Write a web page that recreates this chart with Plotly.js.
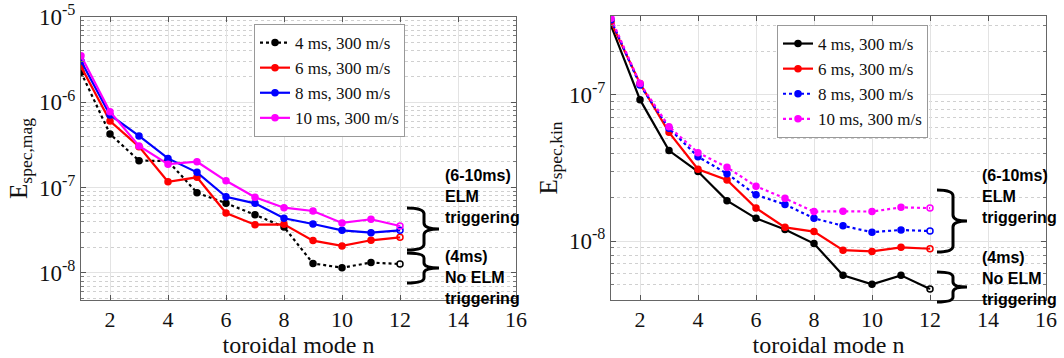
<!DOCTYPE html>
<html><head><meta charset="utf-8">
<script src="https://cdn.plot.ly/plotly-3.0.1.min.js"></script>
<style>html,body{margin:0;padding:0;background:#fff}</style>
</head><body><div id="chart" style="width:1064px;height:358px"></div>
<script>
// ---- data ----
const modeN = [1,2,3,4,5,6,7,8,9,10,11,12];
const seriesNames = ['4 ms, 300 m/s','6 ms, 300 m/s','8 ms, 300 m/s','10 ms, 300 m/s'];
// magnetic spectral energy (left panel)
const mag4ms  = [2.25e-6,4.25e-7,2.07e-7,2.05e-7,8.7e-8,6.55e-8,4.8e-8,3.45e-8,1.29e-8,1.15e-8,1.32e-8,1.27e-8];
const mag6ms  = [2.62e-6,6.04e-7,3.02e-7,1.17e-7,1.32e-7,5.04e-8,3.67e-8,3.71e-8,2.39e-8,2.07e-8,2.41e-8,2.61e-8];
const mag8ms  = [3.05e-6,7.1e-7,4.03e-7,2.2e-7,1.51e-7,7.8e-8,6.54e-8,4.37e-8,3.74e-8,3.15e-8,2.96e-8,3.15e-8];
const mag10ms = [3.52e-6,7.76e-7,3.08e-7,1.88e-7,2.01e-7,1.2e-7,7.69e-8,5.81e-8,5.32e-8,3.85e-8,4.25e-8,3.55e-8];
// kinetic spectral energy (right panel)
const kin4ms  = [2.99e-7,9.29e-8,4.16e-8,2.99e-8,1.89e-8,1.43e-8,1.2e-8,9.6e-9,5.82e-9,5.05e-9,5.82e-9,4.69e-9];
const kin6ms  = [3.15e-7,1.2e-7,5.55e-8,3.1e-8,2.62e-8,1.68e-8,1.24e-8,1.16e-8,8.66e-9,8.49e-9,9.05e-9,8.85e-9];
const kin8ms  = [3.27e-7,1.17e-7,5.91e-8,3.78e-8,2.89e-8,2.07e-8,1.78e-8,1.43e-8,1.27e-8,1.15e-8,1.19e-8,1.17e-8];
const kin10ms = [3.35e-7,1.2e-7,6.07e-8,4.03e-8,3.2e-8,2.37e-8,1.96e-8,1.59e-8,1.6e-8,1.59e-8,1.7e-8,1.68e-8];
const xTicks = [2,4,6,8,10,12,14,16];
const yTicksLeft = [1e-8,1e-7,1e-6,1e-5];
const yTicksRight = [1e-8,1e-7];
const annUpper = '(6-10ms)<br>ELM<br>triggering';
const annLower = '(4ms)<br>No ELM<br>triggering';

// ---- styling ----
const colors = ['#000000','#ff0000','#0000ff','#ff00ff'];
const leftDash = ['dot','solid','solid','solid'];
const rightDash = ['solid','solid','dot','dot'];
const W = 1064, H = 358;
const px = v => v / W, py = v => 1 - v / H;
const serif = 'Liberation Serif';
const sans = 'Liberation Sans';

function syms(n){ return Array.from({length:n},(_,i)=> i===n-1 ? 'circle-open' : 'circle'); }

const traces = [];
[mag4ms,mag6ms,mag8ms,mag10ms].forEach((ys,i)=>{
  traces.push({x:modeN, y:ys, name:seriesNames[i], type:'scatter', mode:'lines+markers',
    line:{color:colors[i], width:2.2, dash:leftDash[i]},
    marker:{color:colors[i], size:6, symbol:syms(ys.length), line:{width:1.5,color:colors[i]}},
    xaxis:'x', yaxis:'y', legend:'legend'});
});
[kin4ms,kin6ms,kin8ms,kin10ms].forEach((ys,i)=>{
  traces.push({x:modeN, y:ys, name:seriesNames[i], type:'scatter', mode:'lines+markers',
    line:{color:colors[i], width:2.2, dash:rightDash[i]},
    marker:{color:colors[i], size:6, symbol:syms(ys.length), line:{width:1.5,color:colors[i]}},
    xaxis:'x2', yaxis:'y2', legend:'legend2'});
});

function minorVals(lo, hi){
  const out=[];
  for(let e=lo;e<hi;e++) for(let m=2;m<=9;m++) out.push(m*Math.pow(10,e));
  return out;
}
const supLabel = v => '10<sup>' + Math.round(Math.log10(v)) + '</sup>';

function xAxis(domain){
  return {domain, range:[1,16], tickvals:xTicks, ticktext:xTicks.map(String),
    ticks:'inside', ticklen:5, tickcolor:'#555', showline:true, linecolor:'#666', linewidth:1, mirror:'ticks',
    showgrid:true, gridcolor:'#e3e3e3', zeroline:false,
    tickfont:{family:serif, size:22, color:'#111'},
    title:{text:'toroidal mode n', font:{family:serif, size:24, color:'#111'}, standoff:0}};
}
function yAxis(domain, range, tv, title, anchor){
  return {domain, type:'log', range, anchor, tickvals:tv, ticktext:tv.map(supLabel),
    ticks:'inside', ticklen:5, tickcolor:'#555', showline:true, linecolor:'#666', linewidth:1, mirror:'ticks',
    showgrid:true, gridcolor:'#e3e3e3', zeroline:false,
    minor:{tickvals:minorVals(-9,-4), showgrid:true, griddash:'dot', gridcolor:'#d0d0d0', ticks:'inside', ticklen:3, tickcolor:'#777'},
    tickfont:{family:serif, size:23, color:'#111'},
    title:{text:title, font:{family:serif, size:25, color:'#111'}, standoff:4}};
}

function brace(x0, xs, xt, y0, y1){
  const m=(y0+y1)/2, r=Math.min(6,(y1-y0)/6);
  const P=(x,y)=> px(x).toFixed(5)+','+py(y).toFixed(5);
  return {type:'path', xref:'paper', yref:'paper', line:{color:'#000', width:3},
    path:'M'+P(x0,y0)+' Q'+P(xs,y0)+' '+P(xs,y0+r)+' L'+P(xs,m-r)+' Q'+P(xs,m)+' '+P(xt,m)+
         ' Q'+P(xs,m)+' '+P(xs,m+r)+' L'+P(xs,y1-r)+' Q'+P(xs,y1)+' '+P(x0,y1)};
}
function label(text, x, y){
  return {text, xref:'paper', yref:'paper', x:px(x), y:py(y), xanchor:'left', yanchor:'middle',
    align:'left', showarrow:false, font:{family:sans, size:16, color:'#000', weight:'bold'}};
}
const legendBase = {xanchor:'left', yanchor:'top', bgcolor:'#fff', bordercolor:'#999', borderwidth:1,
  font:{family:serif, size:17, color:'#111'}, tracegroupgap:0, itemwidth:30};

const layout = {
  width:W, height:H, margin:{l:0,r:0,t:0,b:0}, paper_bgcolor:'#fff', plot_bgcolor:'#fff',
  showlegend:true,
  xaxis:Object.assign(xAxis([px(81),px(516)]), {anchor:'y'}),
  yaxis:yAxis([py(300),py(17)], [-8.318,-5], yTicksLeft, 'E<sub>spec,mag</sub>', 'x'),
  xaxis2:Object.assign(xAxis([px(611),px(1046)]), {anchor:'y2'}),
  yaxis2:yAxis([py(300),py(16)], [-8.404,-6.459], yTicksRight, 'E<sub>spec,kin</sub>', 'x2'),
  legend:Object.assign({x:px(254), y:py(24)}, legendBase),
  legend2:Object.assign({x:px(777), y:py(25)}, legendBase),
  shapes:[brace(407,424,439,208,250), brace(407,424,439,253,283),
          brace(937,953,967,190,252), brace(937,953,967,272,302)],
  annotations:[label(annUpper,443,196), label(annLower,443,277),
               label(annUpper,980,196), label(annLower,980,278)]
};
Plotly.newPlot('chart', traces, layout, {displayModeBar:false, staticPlot:true});
</script></body></html>
